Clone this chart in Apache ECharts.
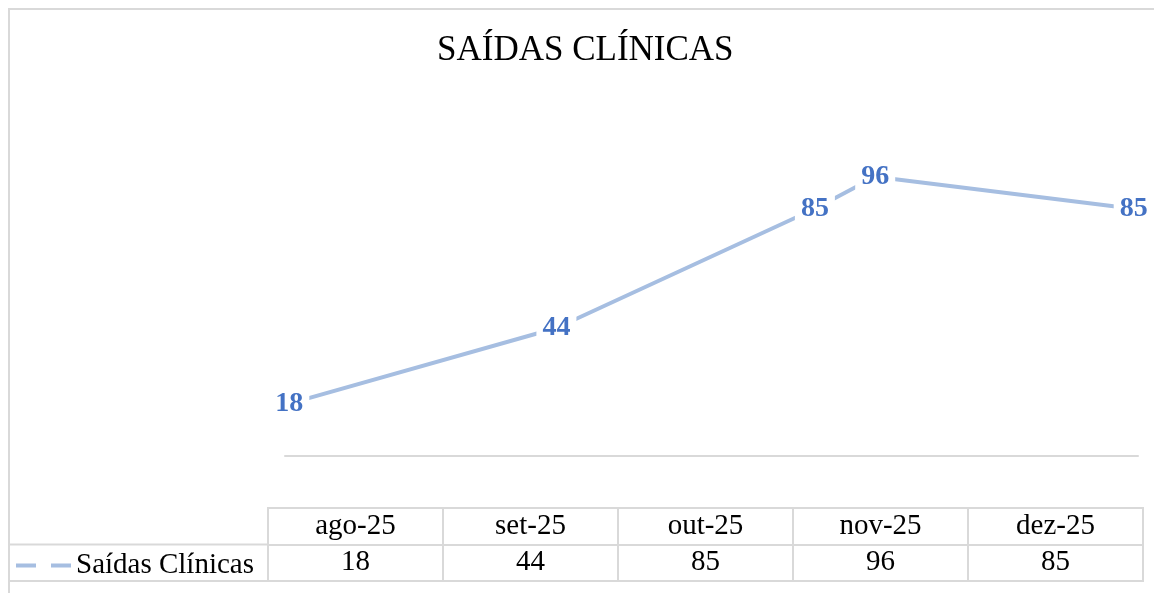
<!DOCTYPE html>
<html>
<head>
<meta charset="utf-8">
<script src="https://cdn.jsdelivr.net/npm/echarts@6/dist/echarts.min.js"></script>
<style>
  html, body { margin: 0; padding: 0; background: #fff; }
  #chart { width: 1154px; height: 593px; }
</style>
</head>
<body>
<div id="chart"></div>
<script>
// dados do gráfico
var categorias = ['ago-25', 'set-25', 'out-25', 'nov-25', 'dez-25'];
// eixo de datas: os pontos ficam nas datas reais (lidas pela posição no desenho)
var datas = ['2025-08-25', '2025-09-25', '2025-10-25', '2025-11-01', '2025-12-01'];
var saidas = [18, 44, 85, 96, 85];
var nomeSerie = 'Saídas Clínicas';

var corLinha = '#A6BEE1';
var corRotulo = '#4472C4';
var corGrade = '#D9D9D9';
var fonte = 'Liberation Serif';

var chart = echarts.init(document.getElementById('chart'));

var meioDia = 12 * 3600 * 1000;
var t0 = new Date(datas[0] + 'T00:00:00').getTime();
var t1 = new Date(datas[datas.length - 1] + 'T00:00:00').getTime();

var linha = datas.map(function (d, i) {
    return [d + 'T00:00:00', saidas[i]];
});
var cabecalho = categorias.map(function (c) {
    return { value: [c, 'cab'], label: { formatter: c } };
});
var valores = categorias.map(function (c, i) {
    return { value: [c, 'val'], label: { formatter: String(saidas[i]) } };
});

var option = {
    backgroundColor: '#fff',
    animation: false,
    title: {
        text: 'SAÍDAS CLÍNICAS',
        left: 432,
        top: 28,
        textStyle: {
            fontFamily: fonte,
            fontWeight: 'normal',
            fontSize: 35,
            color: '#000'
        }
    },
    legend: {
        left: 11,
        top: 546,
        itemWidth: 55,
        itemHeight: 4,
        icon: 'path://M0,0H20V4H0Z M35,0H55V4H35Z',
        data: [nomeSerie],
        textStyle: {
            fontFamily: fonte,
            fontSize: 29,
            color: '#000'
        }
    },
    grid: [{
        left: 285,
        right: 16,
        top: 107,
        bottom: 137
    }, {
        // tabela de dados
        left: 268,
        top: 508,
        width: 875,
        height: 73,
        show: true,
        borderColor: corGrade,
        borderWidth: 2
    }],
    xAxis: [{
        type: 'time',
        gridIndex: 0,
        min: t0 - meioDia,
        max: t1 + meioDia,
        axisLine: { show: true, lineStyle: { color: corGrade, width: 2 } },
        axisTick: { show: false },
        axisLabel: { show: false },
        splitLine: { show: false }
    }, {
        type: 'category',
        gridIndex: 1,
        data: categorias,
        axisLine: { show: false },
        axisTick: { show: false },
        axisLabel: { show: false },
        splitLine: { show: true, lineStyle: { color: corGrade, width: 2 } }
    }],
    yAxis: [{
        type: 'value',
        gridIndex: 0,
        min: 0,
        max: 120,
        show: false
    }, {
        type: 'category',
        gridIndex: 1,
        data: ['cab', 'val'],
        inverse: true,
        axisLine: { show: false },
        axisTick: { show: false },
        axisLabel: { show: false },
        splitLine: { show: true, lineStyle: { color: corGrade, width: 2 } }
    }],
    graphic: [{
        type: 'rect',
        shape: { x: 9, y: 9, width: 1170, height: 620 },
        style: { fill: 'none', stroke: corGrade, lineWidth: 2 },
        silent: true
    }, {
        type: 'line',
        shape: { x1: 9, y1: 544.5, x2: 268, y2: 544.5 },
        style: { stroke: corGrade, lineWidth: 2 },
        silent: true
    }, {
        type: 'line',
        shape: { x1: 9, y1: 581, x2: 268, y2: 581 },
        style: { stroke: corGrade, lineWidth: 2 },
        silent: true
    }],
    series: [{
        name: nomeSerie,
        type: 'line',
        xAxisIndex: 0,
        yAxisIndex: 0,
        data: linha,
        symbol: 'circle',
        symbolSize: 1,
        itemStyle: { color: corLinha },
        lineStyle: { color: corLinha, width: 4 },
        label: {
            show: true,
            position: 'inside',
            fontFamily: fonte,
            fontWeight: 'bold',
            fontSize: 28,
            color: corRotulo,
            backgroundColor: '#fff',
            padding: [2, 6]
        }
    }, {
        name: 'cabecalho',
        type: 'scatter',
        xAxisIndex: 1,
        yAxisIndex: 1,
        data: cabecalho,
        symbolSize: 1,
        itemStyle: { color: 'rgba(0,0,0,0)', opacity: 1 },
        label: {
            show: true,
            position: 'inside',
            fontFamily: fonte,
            fontSize: 29,
            color: '#000'
        }
    }, {
        name: 'valores',
        type: 'scatter',
        xAxisIndex: 1,
        yAxisIndex: 1,
        data: valores,
        symbolSize: 1,
        itemStyle: { color: 'rgba(0,0,0,0)', opacity: 1 },
        label: {
            show: true,
            position: 'inside',
            fontFamily: fonte,
            fontSize: 29,
            color: '#000'
        }
    }]
};

chart.setOption(option);
</script>
</body>
</html>
